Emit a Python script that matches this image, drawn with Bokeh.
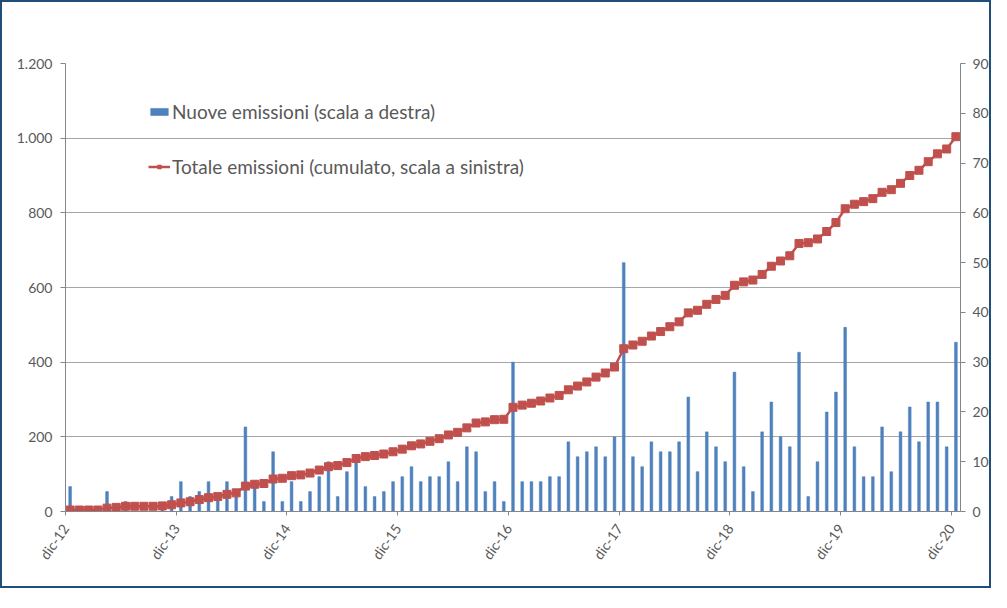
import numpy as np
from bokeh.plotting import figure
from bokeh.models import (Range1d, LinearAxis, FixedTicker, Legend, LegendItem,
                          ColumnDataSource)
from bokeh.embed import file_html
from bokeh.resources import INLINE

# ---- data (monthly, dic-12 .. dic-20) ----
tick_labels = ["dic-12", "dic-13", "dic-14", "dic-15", "dic-16",
               "dic-17", "dic-18", "dic-19", "dic-20"]

nuove_emissioni = [
    5, 0, 0, 0, 4, 0, 2, 0, 0, 0, 1, 3, 6, 3, 4, 6, 3, 6, 3, 17, 5, 2, 12, 2,
    6, 2, 4, 7, 10, 3, 8, 10,
    5, 3, 4, 6, 7, 9, 6, 7, 7, 10, 6, 13, 12, 4, 6, 2, 30, 6, 6, 6, 7, 7, 14,
    11, 12, 13, 11, 15, 50, 11, 9, 14,
    12, 12, 14, 23, 8, 16, 13, 10, 28, 9, 4, 16, 22, 15, 13, 32, 3, 10, 20,
    24, 37, 13, 7, 7, 17, 8, 16, 21, 14, 22, 22, 13, 34,
]

totale_emissioni = [
    4, 4, 4, 4, 9, 11, 14, 14, 14, 14, 15, 18, 23, 26, 32, 37, 40, 46, 50, 68,
    73, 75, 87, 89, 96, 98, 103, 111, 120, 123, 131, 142,
    147, 150, 154, 160, 167, 176, 181, 188, 195, 205, 212, 224, 237, 240, 246,
    247, 279, 285, 290, 296, 304, 311, 326, 336, 347, 360, 371, 387, 436, 446,
    456, 470,
    482, 495, 508, 532, 539, 555, 568, 579, 606, 615, 620, 635, 657, 671, 685,
    718, 720, 730, 750, 774, 811, 823, 830, 838, 855, 862, 879, 900, 914, 937,
    958, 971, 1004,
]

left_ticks = [0, 200, 400, 600, 800, 1000, 1200]
left_tick_labels = ["0", "200", "400", "600", "800", "1.000", "1.200"]
right_ticks = [0, 10, 20, 30, 40, 50, 60, 70, 80, 90]

n = len(nuove_emissioni)
xpos = np.arange(n) + 0.5
src = ColumnDataSource(dict(x=xpos, bar=nuove_emissioni, tot=totale_emissioni))

FONT = "Lato"
LABEL_COL = "#595959"
GRID_COL = "#A6A6A6"
AXIS_COL = "#868686"

p = figure(width=991, height=588, output_backend="svg", toolbar_location=None,
           x_range=Range1d(0, n), y_range=Range1d(0, 1200),
           min_border_left=63, min_border_right=33, min_border_top=61,
           min_border_bottom=79)
p.styles = {"border": "2.5px solid #1F4E79"}
p.outline_line_color = None
p.background_fill_color = "white"
p.border_fill_color = "white"

p.extra_y_ranges = {"right": Range1d(0, 90)}

bars_r = p.vbar(x="x", top="bar", width=0.3, source=src, y_range_name="right",
                fill_color="#4F81BD", line_color="#4F81BD", line_width=0.5)
line_r = p.line(x="x", y="tot", source=src, line_color="#C0504D", line_width=2.5)
mark_r = p.scatter(x="x", y="tot", source=src, marker="square", size=8,
                   fill_color="#C0504D", line_color="#C0504D")

# left axis
ya = p.yaxis[0]
ya.ticker = FixedTicker(ticks=left_ticks)
ya.major_label_overrides = {t: l for t, l in zip(left_ticks, left_tick_labels)}
ya.minor_tick_line_color = None
ya.major_tick_in = 0
ya.major_tick_out = 5
ya.major_label_standoff = 8
ya.axis_line_color = AXIS_COL
ya.major_tick_line_color = AXIS_COL
ya.major_label_text_font = FONT
ya.major_label_text_font_size = "14px"
ya.major_label_text_color = LABEL_COL

# right axis
ra = LinearAxis(y_range_name="right", ticker=FixedTicker(ticks=right_ticks))
ra.minor_tick_line_color = None
ra.major_tick_in = 0
ra.major_tick_out = 5
ra.major_label_standoff = 7
ra.axis_line_color = AXIS_COL
ra.major_tick_line_color = AXIS_COL
ra.major_label_text_font = FONT
ra.major_label_text_font_size = "14px"
ra.major_label_text_color = LABEL_COL
p.add_layout(ra, "right")

# x axis
xa = p.xaxis[0]
xticks = [12 * k for k in range(len(tick_labels))]
xa.ticker = FixedTicker(ticks=xticks)
xa.major_label_overrides = {t: l for t, l in zip(xticks, tick_labels)}
xa.minor_tick_line_color = None
xa.major_tick_in = 0
xa.major_tick_out = 4
xa.major_label_standoff = 10
xa.major_label_orientation = 0.96
xa.axis_line_color = AXIS_COL
xa.major_tick_line_color = AXIS_COL
xa.major_label_text_font = FONT
xa.major_label_text_font_size = "14px"
xa.major_label_text_color = LABEL_COL

p.xgrid.grid_line_color = None
p.ygrid.ticker = FixedTicker(ticks=left_ticks)
p.ygrid.grid_line_color = GRID_COL
p.ygrid.grid_line_width = 1

legend = Legend(items=[
    LegendItem(label="Nuove emissioni (scala a destra)", renderers=[bars_r]),
    LegendItem(label="Totale emissioni (cumulato, scala a sinistra)",
               renderers=[line_r, mark_r]),
], location=(83, 333))
legend.border_line_color = None
legend.background_fill_alpha = 0
legend.padding = 0
legend.margin = 0
legend.spacing = 32
legend.glyph_width = 22
legend.glyph_height = 9
legend.label_standoff = 2
legend.label_text_font = FONT
legend.label_text_font_size = "19px"
legend.label_text_color = LABEL_COL
p.add_layout(legend, "center")

open("out.html", "w").write(file_html(p, INLINE))
